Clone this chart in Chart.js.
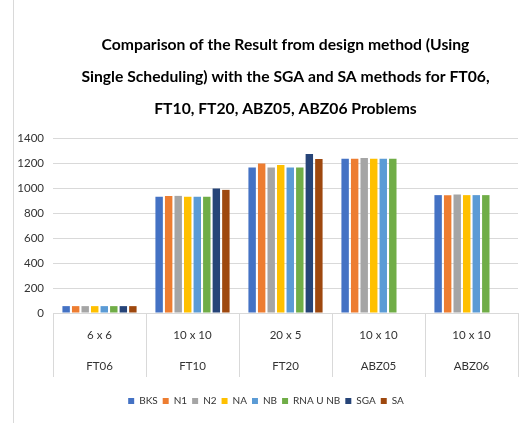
<!DOCTYPE html>
<html>
<head>
<meta charset="utf-8">
<script src="https://cdn.jsdelivr.net/npm/chart.js@4"></script>
<style>
  html, body { margin: 0; padding: 0; background: #fff; overflow: hidden; }
  #wrap { position: absolute; left: 13px; top: 0; width: 511px; height: 423px; border-left: 1px solid #d9d9d9; }
</style>
</head>
<body>
<div id="wrap"><canvas id="resultChart" width="511" height="423"></canvas></div>
<script>
// Données du graphique
const sizes = ["6 x 6", "10 x 10", "20 x 5", "10 x 10", "10 x 10"];
const problems = ["FT06", "FT10", "FT20", "ABZ05", "ABZ06"];
const yTicks = [0, 200, 400, 600, 800, 1000, 1200, 1400];

const bks   = [55, 930, 1165, 1234, 943];
const n1    = [55, 937, 1197, 1234, 943];
const n2    = [55, 937, 1165, 1240, 948];
const na    = [55, 930, 1184, 1234, 943];
const nb    = [55, 930, 1165, 1234, 943];
const rnaNb = [55, 930, 1165, 1234, 943];
const sga   = [55, 997, 1272, null, null];
const sa    = [55, 985, 1232, null, null];

const seriesNames = ["BKS", "N1", "N2", "NA", "NB", "RNA U NB", "SGA", "SA"];
const seriesValues = [bks, n1, n2, na, nb, rnaNb, sga, sa];
const seriesColors = ["#4472C4", "#ED7D31", "#A5A5A5", "#FFC000", "#5B9BD5", "#70AD47", "#264478", "#9E480E"];

const fontFamily = "Lato, 'Liberation Sans', sans-serif";
const gridColor = "#d9d9d9";

const datasets = seriesNames.map(function(name, i) {
    return {
        label: name,
        data: seriesValues[i],
        backgroundColor: seriesColors[i],
        barPercentage: 0.78,
        categoryPercentage: 0.82
    };
});

const ctx = document.getElementById("resultChart").getContext("2d");
new Chart(ctx, {
    type: 'bar',
    data: {
        labels: sizes.map(function(s, i) { return [s, problems[i]]; }),
        datasets: datasets
    },
    options: {
        responsive: false,
        animation: false,
        events: [],
        layout: { padding: { left: 0, right: 7, top: 0, bottom: 7 } },
        plugins: {
            title: {
                display: true,
                fullSize: false,
                text: [
                    "Comparison of the Result from design method (Using",
                    "Single Scheduling) with the SGA and SA methods for FT06,",
                    "FT10, FT20, ABZ05, ABZ06 Problems"
                ],
                color: "#000",
                font: { family: fontFamily, size: 15.7, weight: 'bold', lineHeight: '32px' },
                padding: { top: 29, bottom: 13 }
            },
            legend: {
                position: 'bottom',
                labels: {
                    boxWidth: 6,
                    boxHeight: 6,
                    padding: 5,
                    color: "#333",
                    font: { family: fontFamily, size: 10 }
                }
            },
            tooltip: { enabled: false }
        },
        scales: {
            x: {
                border: { color: gridColor },
                grid: {
                    offset: true,
                    drawOnChartArea: false,
                    color: gridColor,
                    tickLength: 64
                },
                ticks: {
                    padding: -57,
                    color: "#333",
                    font: { family: fontFamily, size: 11.5, lineHeight: '31px' }
                },
                afterFit: function(scale) { scale.height = 78; }
            },
            y: {
                min: 0,
                max: 1400,
                border: { display: false },
                grid: { color: gridColor, drawTicks: false },
                afterBuildTicks: function(scale) {
                    scale.ticks = yTicks.map(function(v) { return { value: v }; });
                },
                afterFit: function(scale) { scale.width = 39; },
                ticks: {
                    padding: 9,
                    color: "#333",
                    font: { family: fontFamily, size: 11.5 },
                    callback: function(value) { return String(value); }
                }
            }
        }
    }
});
</script>
</body>
</html>
